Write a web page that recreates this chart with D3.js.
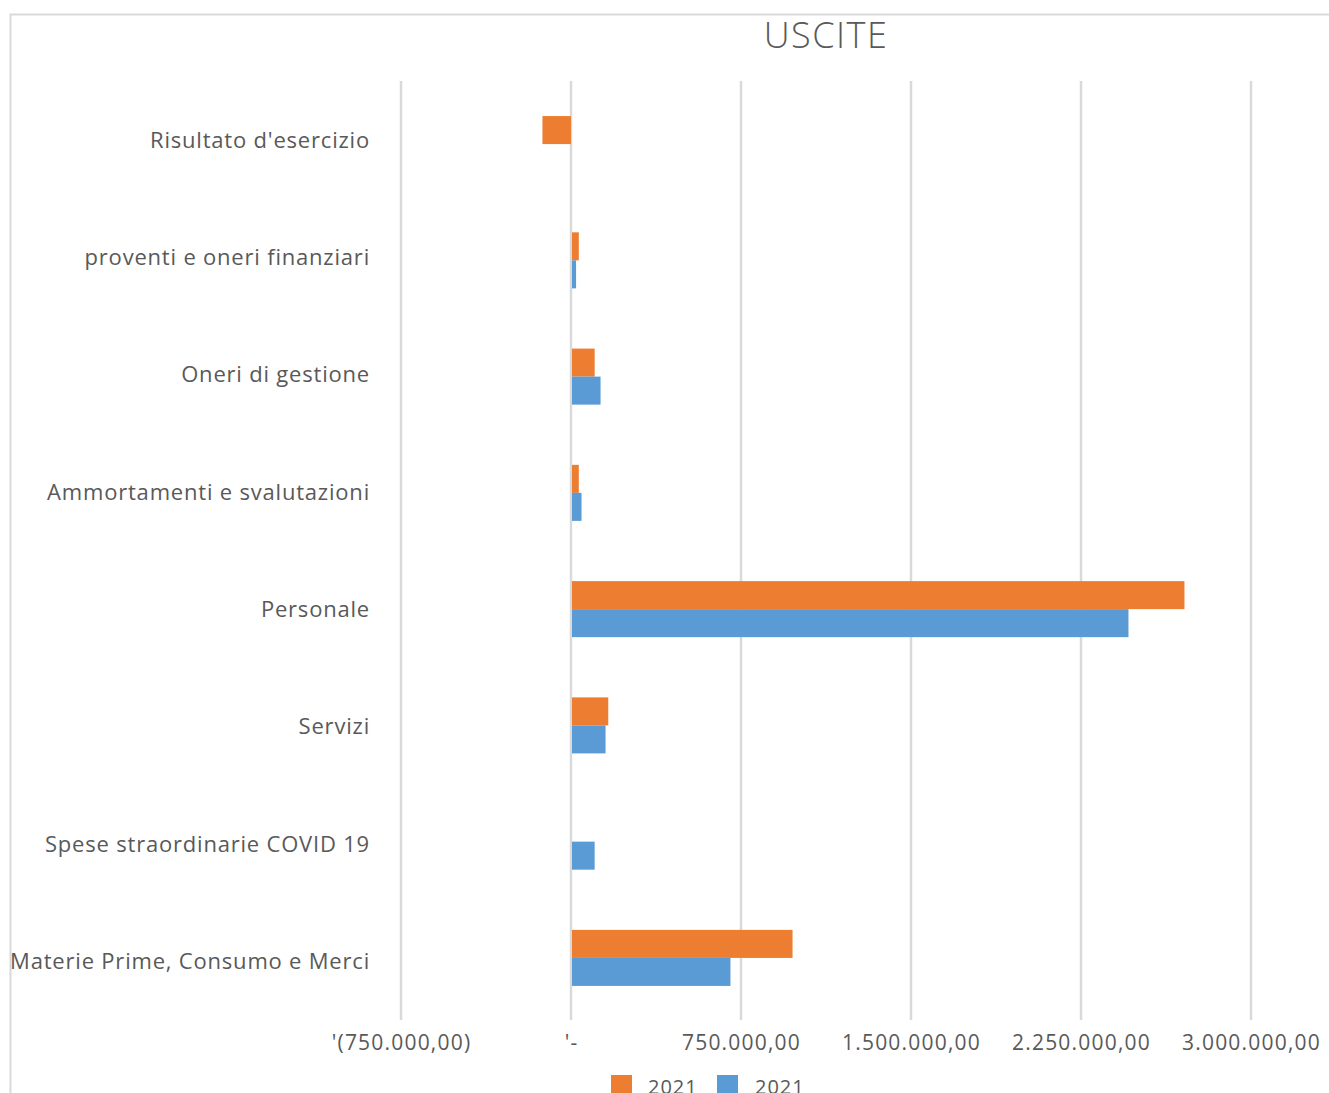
<!DOCTYPE html>
<html><head><meta charset="utf-8">
<script src="https://cdn.jsdelivr.net/npm/d3@7"></script>
<style>body{margin:0;background:#fff;} text{font-family:"Open Sans",Lato,sans-serif;fill:#595959;}</style>
</head><body>
<svg id="c" width="1329" height="1093"></svg>
<script>
const categories = ["Risultato d'esercizio","proventi e oneri finanziari","Oneri di gestione","Ammortamenti e svalutazioni","Personale","Servizi","Spese straordinarie COVID 19","Materie Prime, Consumo e Merci"];
const seriesNames = ["2021","2021"];
const seriesColors = ["#ED7D31","#5B9BD5"];
const orangeValues = [-126000, 30000, 100000, 30000, 2702000, 160000, 0, 973000];
const blueValues = [0, 18000, 126000, 42000, 2455000, 148000, 100000, 699000];
const tickValues = [-750000, 0, 750000, 1500000, 2250000, 3000000];
const tickLabels = ["'(750.000,00)", "'-", "750.000,00", "1.500.000,00", "2.250.000,00", "3.000.000,00"];

const svg = d3.select("#c");
svg.append("path").attr("d","M10.5,1093 L10.5,14.5 L1329,14.5").attr("fill","none").attr("stroke","#d9d9d9").attr("stroke-width",2);

svg.append("text").attr("x",826).attr("y",48).attr("text-anchor","middle").style("font-size","36px").style("font-weight","300").style("letter-spacing","1.5px").text("USCITE");

const x = d3.scaleLinear().domain([-750000,3000000]).range([401,1251]);
const y = d3.scaleBand().domain(categories).range([87,1015]).paddingInner(0.518).paddingOuter(0.25);
const yLab = d3.scaleBand().domain(categories).range([81.5,1020]);
const sub = d3.scaleBand().domain([0,1]).range([0,y.bandwidth()]);

svg.append("g").selectAll("line").data(tickValues).join("line")
  .attr("x1",d=>x(d)).attr("x2",d=>x(d)).attr("y1",81).attr("y2",1020)
  .attr("stroke","#d9d9d9").attr("stroke-width",2.5);

const series = [orangeValues, blueValues];
series.forEach((vals,si)=>{
  svg.append("g").selectAll("rect").data(vals.map((v,i)=>({v,c:categories[i]}))).join("rect")
    .attr("x",d=>Math.min(x(0),x(d.v))+(d.v>=0?1:0))
    .attr("width",d=>Math.abs(x(d.v)-x(0)))
    .attr("y",d=>y(d.c)+sub(si))
    .attr("height",sub.bandwidth())
    .attr("fill",seriesColors[si]);
});

svg.append("g").selectAll("text").data(categories).join("text")
  .attr("x",370).attr("y",d=>yLab(d)+yLab.bandwidth()/2).attr("dy","0.35em")
  .attr("text-anchor","end").style("font-size","22px").style("letter-spacing","0.8px").text(d=>d);

const xAxis = d3.axisBottom(x).tickValues(tickValues).tickFormat((d,i)=>tickLabels[i]).tickSize(0);
const gx = svg.append("g").attr("transform","translate(0,1032)").call(xAxis);
gx.select(".domain").remove();
gx.selectAll("text").style("font-size","21px").style("letter-spacing","1.2px").attr("fill","#595959").style("font-family","'Open Sans', Lato, sans-serif");

const leg = svg.append("g");
[[611,648],[717,755]].forEach((p,i)=>{
  leg.append("rect").attr("x",p[0]).attr("y",1075).attr("width",21).attr("height",21).attr("fill",seriesColors[i]);
  leg.append("text").attr("x",p[1]).attr("y",1094).style("font-size","20px").style("letter-spacing","1px").text(seriesNames[i]);
});
</script>
</body></html>
